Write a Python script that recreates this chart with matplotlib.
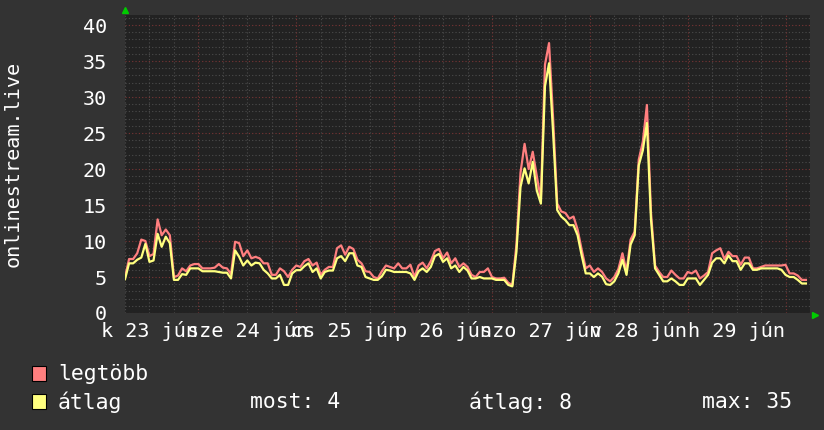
#onlinestream.live - heti nézők grafikon (rrdtool stílus)
import numpy as np
import matplotlib
matplotlib.use('Agg')
import matplotlib.pyplot as plt
from matplotlib.patches import Rectangle

#adatok: óránkénti értékek, jún 23 06:00-tól
legtobb = [5.0, 7.5, 7.5, 8.3, 10.2, 10.0, 7.9, 8.2, 13.0, 10.8, 11.6, 10.8, 5.0, 5.2, 6.2, 5.8, 6.6, 6.8, 6.8, 6.2, 6.2, 6.2, 6.3, 6.8,
           6.3, 6.2, 5.4, 9.9, 9.7, 7.9, 8.7, 7.6, 7.8, 7.6, 6.9, 6.9, 5.3, 5.3, 6.2, 5.8, 5.0, 6.0, 6.6, 6.4, 7.2, 7.5, 6.6, 7.0,
           5.3, 6.0, 6.4, 6.4, 9.0, 9.4, 8.1, 9.2, 8.9, 7.4, 6.9, 5.8, 5.7, 5.0, 4.8, 5.8, 6.6, 6.4, 6.2, 6.9, 6.2, 6.2, 6.7, 5.0,
           6.6, 7.0, 6.2, 7.2, 8.6, 8.9, 7.6, 8.4, 6.9, 7.6, 6.4, 6.9, 6.4, 5.3, 5.0, 5.7, 5.7, 6.2, 5.0, 4.8, 4.8, 4.9, 4.2, 3.9,
           9.5, 19.5, 23.5, 20.0, 22.4, 19.0, 15.8, 34.5, 37.5, 27.0, 15.2, 14.1, 13.9, 13.1, 13.4, 11.6, 8.8, 6.2, 6.6, 5.7, 6.2, 5.7, 4.8, 4.4,
           5.0, 6.1, 8.3, 5.8, 10.2, 11.3, 21.3, 23.8, 28.9, 14.0, 6.6, 5.7, 5.0, 5.0, 5.9, 5.3, 4.8, 4.8, 5.7, 5.5, 5.9, 4.8, 5.2, 5.7,
           8.3, 8.7, 9.0, 7.5, 8.5, 7.9, 7.9, 6.7, 7.7, 7.7, 6.2, 6.2, 6.4, 6.6, 6.6, 6.6, 6.6, 6.6, 6.7, 5.5, 5.5, 5.2, 4.6, 4.6]

atlag = [4.7, 6.9, 6.9, 7.4, 7.7, 9.6, 7.1, 7.3, 11.0, 9.2, 10.6, 9.7, 4.6, 4.6, 5.4, 5.3, 6.2, 6.2, 6.2, 5.8, 5.8, 5.8, 5.8, 5.7,
         5.6, 5.6, 4.8, 8.7, 7.8, 6.6, 7.3, 6.6, 7.0, 6.9, 6.0, 5.5, 4.8, 4.8, 5.3, 3.9, 3.9, 5.5, 5.95, 5.95, 6.5, 6.9, 5.7, 6.2,
         4.8, 5.7, 5.9, 5.9, 7.6, 7.9, 7.2, 8.3, 8.3, 6.6, 6.4, 5.0, 4.8, 4.6, 4.6, 5.1, 6.0, 5.9, 5.7, 5.7, 5.7, 5.7, 5.5, 4.6,
         5.8, 6.2, 5.7, 6.4, 7.9, 8.2, 7.1, 7.6, 6.2, 6.6, 5.7, 6.4, 5.9, 4.8, 4.8, 5.0, 4.8, 4.8, 4.8, 4.6, 4.6, 4.6, 3.9, 3.7,
         8.5, 17.5, 20.1, 18.0, 21.0, 17.0, 15.2, 31.5, 34.7, 25.0, 14.3, 13.4, 12.9, 12.2, 12.2, 10.8, 8.0, 5.5, 5.5, 5.0, 5.5, 5.05, 4.0, 3.9,
         4.4, 5.5, 7.4, 5.3, 9.5, 10.8, 20.5, 22.6, 26.4, 13.0, 6.2, 5.3, 4.4, 4.4, 4.8, 4.4, 3.9, 3.9, 4.8, 4.8, 4.8, 3.9, 4.6, 5.3,
         7.0, 7.6, 7.6, 6.9, 8.0, 7.2, 7.2, 6.0, 6.9, 6.9, 6.0, 6.0, 6.2, 6.2, 6.2, 6.2, 6.2, 6.0, 5.3, 5.0, 5.0, 4.6, 4.1, 4.1]

nap_cimkek = ["k 23 jún", "sze 24 jún", "cs 25 jún", "p 26 jún", "szo 27 jún", "v 28 jún", "h 29 jún"]
y_cimkek = [0, 5, 10, 15, 20, 25, 30, 35, 40]
osszesito = ["most: 4", "átlag: 8", "max: 35"]

W, H = 824, 430
BG = '#333333'
CANVAS = '#222222'
MONO = 'DejaVu Sans Mono'
FS = 14.5
FS_LEG = 15.4

fig = plt.figure(figsize=(W / 100, H / 100), dpi=100, facecolor=BG)
# plot terület pixelben: x 125-810, y 15-313
ax = fig.add_axes([125 / W, 1 - 313 / H, 685 / W, 298 / H])
ax.set_facecolor(CANVAS)
for s in ax.spines.values():
    s.set_visible(False)

ora = np.arange(len(atlag))
ax.set_xlim(0, 168)
ax.set_ylim(0, 41.4)

#rács
for v in range(0, 42):
    if v % 5 == 0:
        ax.axhline(v, color='#7a3535', lw=0.8, ls=(0, (1, 2)), zorder=1)
    else:
        ax.axhline(v, color='#4c4c4c', lw=0.8, ls=(0, (1, 2)), zorder=1)
for h in range(0, 169, 6):
    if (h - 18) % 24 == 0:
        ax.axvline(h, color='#7a3535', lw=0.8, ls=(0, (1, 2)), zorder=1)
    else:
        ax.axvline(h, color='#4c4c4c', lw=0.8, ls=(0, (1, 2)), zorder=1)

ax.plot(ora, legtobb, color='#ff7f7f', lw=1.6, zorder=3)
ax.plot(ora, atlag, color='#ffff7f', lw=1.6, zorder=4)

#tengelyek
ax.set_yticks(y_cimkek)
ax.set_yticklabels([str(v) for v in y_cimkek], fontfamily=MONO, fontsize=FS, color='white')
ax.set_xticks([6 + 24 * i for i in range(len(nap_cimkek))])
ax.set_xticklabels(nap_cimkek, fontfamily=MONO, fontsize=FS, color='white')
ax.tick_params(axis='y', length=0, pad=13)
ax.tick_params(axis='x', length=0, pad=6)

# zöld nyilak
ax.plot([0], [1.017], marker='^', color='#00cc00', ms=5, transform=ax.transAxes, clip_on=False)
ax.plot([1.008], [-0.006], marker='>', color='#00cc00', ms=5, transform=ax.transAxes, clip_on=False)

fig.text(13 / W, 1 - 164 / H, "onlinestream.live", rotation=90, ha='center', va='center',
         fontfamily=MONO, fontsize=FS, color='white')

#jelmagyarázat
fig.patches.append(Rectangle((32 / W, 1 - 381 / H), 14 / W, 15 / H, transform=fig.transFigure,
                             facecolor='#ff7f7f', edgecolor='black', lw=0.8))
fig.patches.append(Rectangle((32 / W, 1 - 409 / H), 14 / W, 15 / H, transform=fig.transFigure,
                             facecolor='#ffff7f', edgecolor='black', lw=0.8))
fig.text(58 / W, 1 - 374 / H, "legtöbb", va='center', fontfamily=MONO, fontsize=FS_LEG, color='white')
fig.text(58 / W, 1 - 402 / H, "átlag", va='center', fontfamily=MONO, fontsize=FS_LEG, color='white')
for xpos, t in zip([250, 469, 702], osszesito):
    fig.text(xpos / W, 1 - 402 / H, t, va='center', fontfamily=MONO, fontsize=FS_LEG, color='white')

plt.savefig('out.png', dpi=100, facecolor=BG)
